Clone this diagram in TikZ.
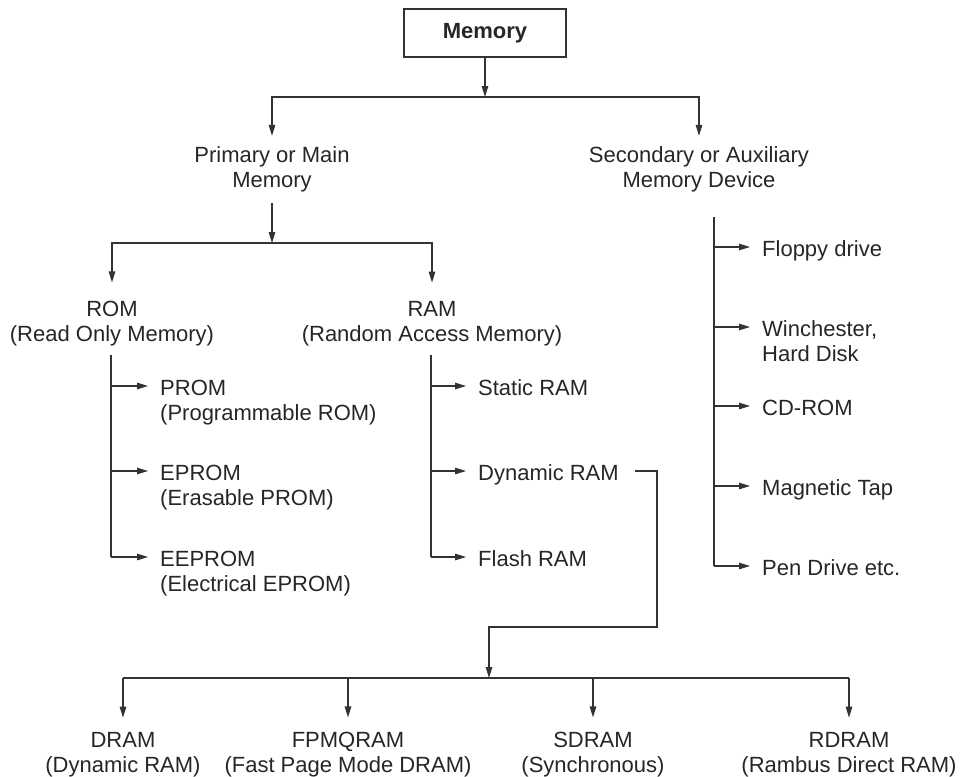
\documentclass[tikz,border=0pt]{standalone}
\usepackage{fontspec}
\setmainfont{Liberation Sans}
\usepackage{tikz}
\usetikzlibrary{arrows.meta}

\begin{document}
\begin{tikzpicture}[x=1pt, y=-1pt,
    every node/.style={font=\fontsize{22}{25}\selectfont, text=black!85},
    treenode/.style={align=center, anchor=base, inner sep=0pt},
    leaf/.style={align=left, anchor=base west, inner ysep=0pt, inner xsep=12pt},
    line/.style={draw=black!80, line width=1.2pt},
    arr/.style={line, -{Triangle[length=11pt, width=6.5pt]}}]
    \useasboundingbox (0,0) rectangle (962,777);

    % top of the tree (base is the last line of a node)
    \node [draw=black!80, line width=1.2pt, minimum width=162pt, minimum height=48pt,
           font=\fontsize{22}{25}\selectfont\bfseries] (mem) at (485,33) {Memory};
    \node [treenode] (prim) at (272,187) {Primary or Main\\Memory};
    \node [treenode] (sec) at (699,187) {Secondary or Auxiliary\\Memory Device};

    \coordinate (j1) at (485,97);
    \draw [arr] (mem) -- (j1);
    \draw [arr, shorten >=10pt] (j1) -| (prim);
    \draw [arr, shorten >=10pt] (j1) -| (sec);

    \node [treenode] (rom) at (112,341) {ROM\\(Read Only Memory)};
    \node [treenode] (ram) at (432,341) {RAM\\(Random Access Memory)};

    \coordinate (j2) at (272,243);
    \draw [arr, shorten <=11pt] (prim) -- (j2);
    \draw [arr, shorten >=18pt] (j2) -| (rom);
    \draw [arr, shorten >=18pt] (j2) -| (ram);

    % ROM types
    \coordinate (r1) at (111,386);
    \coordinate (r2) at (111,471);
    \coordinate (r3) at (111,557);
    \node [leaf] (prom) at (148,420) {PROM\\(Programmable ROM)};
    \node [leaf] (eprom) at (148,505) {EPROM\\(Erasable PROM)};
    \node [leaf] (eeprom) at (148,591) {EEPROM\\(Electrical EPROM)};
    \draw [line, shorten <=9pt] (r3 |- rom.south) -- (r3);
    \foreach \c/\n in {r1/prom, r2/eprom, r3/eeprom}
        \draw [arr] (\c) -- (\c -| \n.west);

    % RAM types
    \coordinate (a1) at (431,386);
    \coordinate (a2) at (431,471);
    \coordinate (a3) at (431,557);
    \node [leaf] (sram) at (466,395) {Static RAM};
    \node [leaf] (dyn) at (466,480) {Dynamic RAM};
    \node [leaf] (flash) at (466,566) {Flash RAM};
    \draw [line, shorten <=9pt] (a3 |- ram.south) -- (a3);
    \foreach \c/\n in {a1/sram, a2/dyn, a3/flash}
        \draw [arr] (\c) -- (\c -| \n.west);

    % secondary devices
    \coordinate (s1) at (714,247);
    \coordinate (s2) at (714,327);
    \coordinate (s3) at (714,406);
    \coordinate (s4) at (714,486);
    \coordinate (s5) at (714,566);
    \node [leaf] (floppy) at (750,256) {Floppy drive};
    \node [leaf] (hdd) at (750,361) {Winchester,\\Hard Disk};
    \node [leaf] (cd) at (750,415) {CD-ROM};
    \node [leaf] (tape) at (750,495) {Magnetic Tap};
    \node [leaf] (pen) at (750,575) {Pen Drive etc.};
    \draw [line, shorten <=25pt] (s5 |- sec.south) -- (s5);
    \foreach \c/\n in {s1/floppy, s2/hdd, s3/cd, s4/tape, s5/pen}
        \draw [arr] (\c) -- (\c -| \n.west);

    % kinds of dynamic RAM
    \node [treenode] (dram) at (123,772) {DRAM\\(Dynamic RAM)};
    \node [treenode] (fpm) at (348,772) {FPMQRAM\\(Fast Page Mode DRAM)};
    \node [treenode] (sdram) at (593,772) {SDRAM\\(Synchronous)};
    \node [treenode] (rdram) at (849,772) {RDRAM\\(Rambus Direct RAM)};

    \coordinate (c1) at (657,627);
    \coordinate (j3) at (489,678);
    \draw [arr, shorten <=4pt] (a2 -| dyn.east) -| (c1) -| (j3);
    \draw [line] (dram |- j3) -- (rdram |- j3);
    \foreach \n in {dram, fpm, sdram, rdram}
        \draw [arr, shorten >=14pt] (\n |- j3) -- (\n);

\end{tikzpicture}
\end{document}
